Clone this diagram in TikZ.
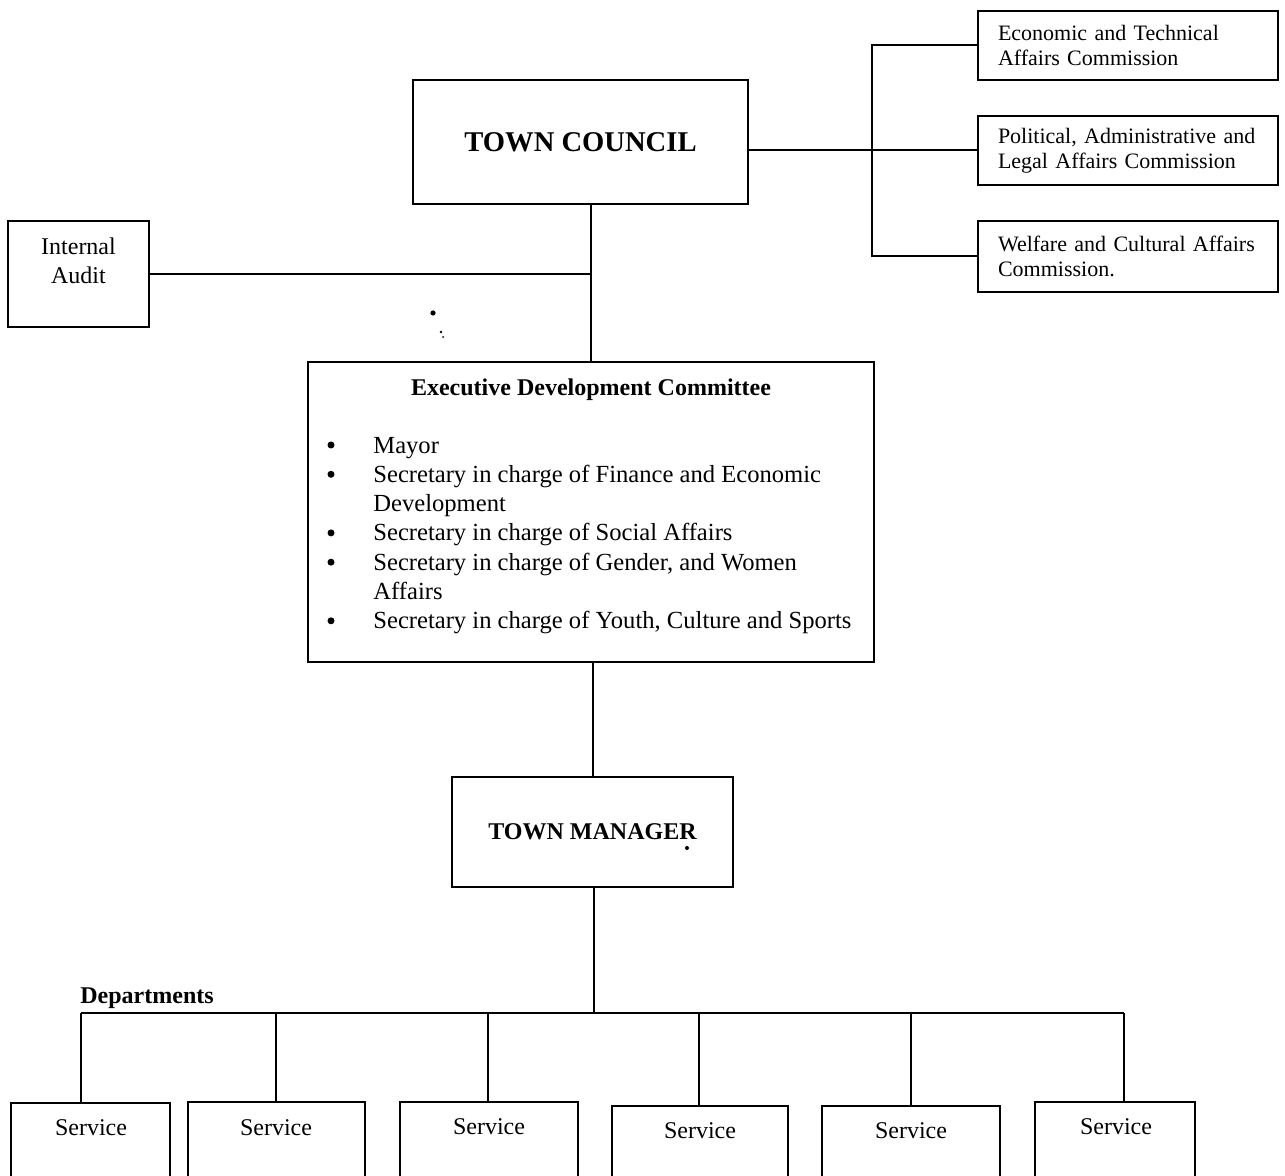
\documentclass[tikz,border=0pt]{standalone}
\usepackage{fontspec}
\setmainfont{Liberation Serif}
\begin{document}
\begin{tikzpicture}[x=0.5pt,y=-0.5pt,
  box/.style={draw, line width=1.1pt, inner sep=0pt},
  link/.style={draw, line width=1pt},
  txt/.style={inner sep=0pt, font=\fontsize{12}{14.5}\selectfont},
  itemtxt/.style={inner sep=0pt, font=\fontsize{12.3}{14.5}\selectfont},
  boldtxt/.style={inner sep=0pt, font=\bfseries\fontsize{12}{14.5}\selectfont},
  commission/.style={box, align=left, text width=130pt, inner xsep=10pt,
    font=\fontsize{11}{12.5}\selectfont},
  servicebox/.style={box, anchor=north}]

\useasboundingbox (0,0) rectangle (1285,1176);
\fill[white] (0,0) rectangle (1285,1176);
\clip (0,0) rectangle (1285,1176);

% top level
\node[box, minimum width=167.5pt, minimum height=62pt,
      font=\bfseries\fontsize{14.3}{16}\selectfont] (tc) at (580.5,142) {TOWN COUNCIL};

% standing commissions
\node[commission, minimum height=34.5pt] (c1) at (1128,45.5) {Economic and Technical\\Affairs Commission};
\node[commission, minimum height=34.5pt] (c2) at (1128,150.5) {Political, Administrative and\\Legal Affairs Commission};
\node[commission, minimum height=35.5pt] (c3) at (1128,256.5) {Welfare and Cultural Affairs\\Commission.};
\coordinate (brk) at (872,150.5);

% internal audit
\node[box, minimum width=70.5pt, minimum height=53pt] (ia) at (78.5,274) {};
\node[txt, align=center] (iatext) at (78.5,260.5) {Internal\\Audit};

% executive development committee
\node[box, minimum width=283pt, minimum height=150pt] (edc) at (591,512) {};
\node[boldtxt, anchor=base] (edctitle) at (591,396) {Executive Development Committee};
\foreach \n/\yb/\t in {
  m1/453/{Mayor},
  m2/482.3/{Secretary in charge of Finance and Economic},
  m2b/511.6/{Development},
  m3/540.9/{Secretary in charge of Social Affairs},
  m4/570.2/{Secretary in charge of Gender, and Women},
  m4b/599.5/{Affairs},
  m5/628.8/{Secretary in charge of Youth, Culture and Sports}}
  \node[itemtxt, anchor=base west] (\n) at (373,\yb) {\t};
% list bullets
\foreach \yb in {453, 482.3, 540.9, 570.2, 628.8}
  \fill (331,\yb-8) circle[radius=1.75pt];

% town manager
\node[box, minimum width=140.5pt, minimum height=55pt,
      font=\bfseries\fontsize{12}{14.5}\selectfont] (tm) at (592.5,832) {TOWN MANAGER};

% departments
\node[boldtxt, anchor=base west] (dept) at (80,1003) {Departments};
\coordinate (bus) at (594,1013);
\coordinate (busL) at (81,1013);
\coordinate (busR) at (1124,1013);

\foreach \i/\cx/\w/\top/\dx/\tx/\ty in {
  1/90.5/79.5/1102/81/91/1135,
  2/276.5/88.5/1101/276/276/1135,
  3/489/89/1101/488/489/1134,
  4/700/88/1105/699/700/1138,
  5/911/89/1105/911/911/1138,
  6/1115/80/1101/1124/1116/1134} {
  \node[servicebox, minimum width=\w pt, minimum height={(1200-\top)*0.5pt}] (s\i) at (\cx,\top) {};
  \node[txt, anchor=base] (st\i) at (\tx,\ty) {Service};
  \coordinate (d\i) at (\dx,1013);
  \draw[link] (d\i) -- (d\i |- s\i.north);
}

% connectors
\draw[link] (c2.west -| tc.east) -- (c2.west);
\draw[link] (c1.west) -- (c1.west -| brk) -- (c3.west -| brk) -- (c3.west);
\draw[link] (edc.north |- tc.south) -- (edc.north);
\draw[link] (ia.east) -- (ia.east -| edc.north);
\draw[link] (tm.north |- edc.south) -- (tm.north);
\draw[link] (tm.south -| bus) -- (bus);
\draw[link] (busL) -- (busR);

% small marks
\fill (433,313) circle[radius=1.3pt];
\fill (441,332) circle[radius=0.7pt];
\fill (443,337) circle[radius=0.5pt];
\fill (687,848) circle[radius=1pt];
\end{tikzpicture}
\end{document}
